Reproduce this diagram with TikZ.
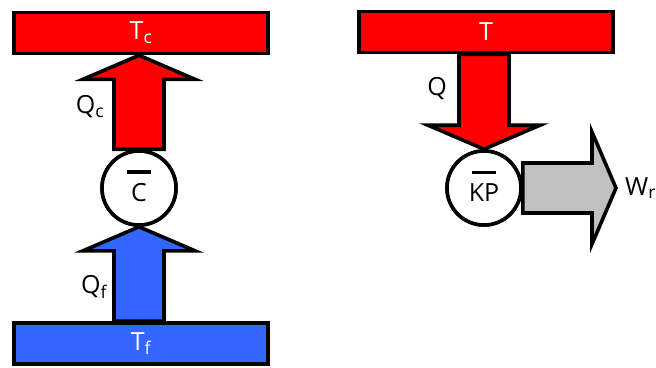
\documentclass[tikz,border=0pt]{standalone}
\usepackage{fontspec}
\setmainfont{Open Sans}
\usepackage{tikz}
\usetikzlibrary{calc,positioning}
\definecolor{hotred}{RGB}{255,0,0}
\definecolor{coldblue}{RGB}{51,102,255}
\definecolor{workgrey}{RGB}{192,192,192}
\tikzset{
  base/.style={font=\fontsize{25}{30}\selectfont, align=center, inner sep=0pt},
  bar/.style={base, rectangle, draw=black, line width=3.6pt, minimum width=254pt, minimum height=41pt, text=white},
  engine/.style={base, circle, draw=black, fill=white, line width=3.6pt, minimum size=74pt},
  lbl/.style={base, text=black},
  fatarrow/.style={line width=3.6pt, draw=black, line join=miter, to path={
    ($(\tikztotarget)!24pt!(\tikztostart)$) coordinate (fa-h)
    ($(\tikztostart)!25pt!90:(\tikztotarget)$)
    -- ($(fa-h)!25pt!90:(\tikztotarget)$)
    -- ($(fa-h)!56pt!90:(\tikztotarget)$)
    -- (\tikztotarget)
    -- ($(fa-h)!56pt!-90:(\tikztotarget)$)
    -- ($(fa-h)!25pt!-90:(\tikztotarget)$)
    -- ($(\tikztostart)!25pt!-90:(\tikztotarget)$) -- cycle}},
}
\begin{document}
\begin{tikzpicture}[x=1pt,y=-1pt]
  \useasboundingbox (0,0) rectangle (656,367);
  % refrigerator (left)
  \node[engine] (engC) at (139,188) {};
  \node[bar,fill=hotred] (hotL) at (141,33) {T\textsubscript{c}};
  \node[bar,fill=coldblue] (coldL) at (141,343.5) {T\textsubscript{f}};
  \draw[fatarrow,fill=hotred] (engC.north) to (engC.north |- hotL.south);
  \draw[fatarrow,fill=coldblue] (engC.south |- coldL.north) to (engC.south);
  \node[bar,fill=hotred] at (hotL) {T\textsubscript{c}};
  \node[bar,fill=coldblue] at (coldL) {T\textsubscript{f}};
  \node[engine] at (engC) {};
  \node[lbl] (engClbl) at ([yshift=2pt]engC) {\rule{24pt}{3.5pt}\\[-2.5pt]C};
  \node[lbl] (qc) at (90,107) {Q\textsubscript{c}};
  \node[lbl] (qf) at (94,287) {Q\textsubscript{f}};
  % heat pump (right)
  \node[engine] (pump) at (484,188) {};
  \node[bar,fill=hotred] (hotR) at (486,32) {T};
  \coordinate (wtip) at (616,188);
  \draw[fatarrow,fill=hotred] (pump.north |- hotR.south) to (pump.north);
  \draw[fatarrow,fill=workgrey] (pump.east) to (wtip);
  \node[bar,fill=hotred] at (hotR) {T};
  \node[engine] at (pump) {};
  \node[lbl] (pumplbl) at ([yshift=2pt]pump) {\rule{24pt}{3.5pt}\\[-2.5pt]KP};
  \node[lbl] (q) at (437,89) {Q};
  \node[lbl,anchor=west] (wr) at ([xshift=9pt]wtip) {W\textsubscript{r}};
\end{tikzpicture}
\end{document}
